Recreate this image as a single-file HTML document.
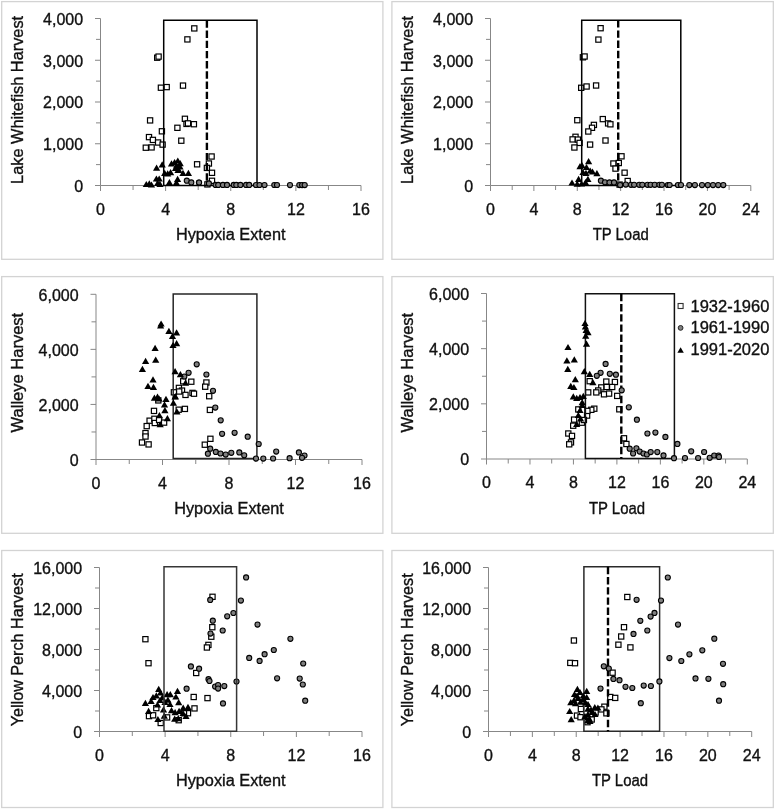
<!DOCTYPE html>
<html><head><meta charset="utf-8"><style>
html,body{margin:0;padding:0;background:#fff;}
svg{display:block;}
svg{filter:grayscale(1);}
text{font-family:"Liberation Sans", sans-serif;font-size:16px;fill:#111;stroke:#111;stroke-width:0.35px;}
</style></head><body>
<svg width="775" height="810" viewBox="0 0 775 810">
<rect width="775" height="810" fill="#fff"/>
<rect x="1.7" y="1.6" width="381.2" height="257.7" fill="#fff" stroke="#d3d3d3" stroke-width="1.3"/>
<rect x="391.9" y="1.6" width="381.4" height="257.7" fill="#fff" stroke="#d3d3d3" stroke-width="1.3"/>
<rect x="1.7" y="276.6" width="381.2" height="256.7" fill="#fff" stroke="#d3d3d3" stroke-width="1.3"/>
<rect x="391.9" y="276.6" width="381.4" height="256.7" fill="#fff" stroke="#d3d3d3" stroke-width="1.3"/>
<rect x="1.7" y="550.5" width="381.2" height="257.0" fill="#fff" stroke="#d3d3d3" stroke-width="1.3"/>
<rect x="391.9" y="550.5" width="381.4" height="257.0" fill="#fff" stroke="#d3d3d3" stroke-width="1.3"/>
<path d="M100.5 18.5V185.5M100.5 185.5H361.0" stroke="#878787" stroke-width="1" fill="none"/>
<path d="M95.00 185.50H100.5M96.00 164.62H100.5M95.00 143.75H100.5M96.00 122.88H100.5M95.00 102.00H100.5M96.00 81.12H100.5M95.00 60.25H100.5M96.00 39.38H100.5M95.00 18.50H100.5M100.50 185.5V191.00M133.06 185.5V190.00M165.62 185.5V191.00M198.19 185.5V190.00M230.75 185.5V191.00M263.31 185.5V190.00M295.88 185.5V191.00M328.44 185.5V190.00M361.00 185.5V191.00" stroke="#878787" stroke-width="1" fill="none"/>
<text x="83.1" y="191.7" text-anchor="end">0</text>
<text x="83.1" y="149.9" text-anchor="end">1,000</text>
<text x="83.1" y="108.2" text-anchor="end">2,000</text>
<text x="83.1" y="66.5" text-anchor="end">3,000</text>
<text x="83.1" y="24.7" text-anchor="end">4,000</text>
<text x="100.5" y="214.9" text-anchor="middle">0</text>
<text x="165.6" y="214.9" text-anchor="middle">4</text>
<text x="230.8" y="214.9" text-anchor="middle">8</text>
<text x="295.9" y="214.9" text-anchor="middle">12</text>
<text x="361.0" y="214.9" text-anchor="middle">16</text>
<text transform="translate(23.2 99.9) rotate(-90)" text-anchor="middle" textLength="168.1" lengthAdjust="spacingAndGlyphs">Lake Whitefish Harvest</text>
<text x="230.7" y="239.9" text-anchor="middle" textLength="109.6" lengthAdjust="spacingAndGlyphs">Hypoxia Extent</text>
<path d="M490.5 18.5V185.5M490.5 185.5H750.8" stroke="#878787" stroke-width="1" fill="none"/>
<path d="M485.00 185.50H490.5M486.00 164.62H490.5M485.00 143.75H490.5M486.00 122.88H490.5M485.00 102.00H490.5M486.00 81.12H490.5M485.00 60.25H490.5M486.00 39.38H490.5M485.00 18.50H490.5M490.50 185.5V191.00M512.19 185.5V190.00M533.88 185.5V191.00M555.58 185.5V190.00M577.27 185.5V191.00M598.96 185.5V190.00M620.65 185.5V191.00M642.34 185.5V190.00M664.03 185.5V191.00M685.73 185.5V190.00M707.42 185.5V191.00M729.11 185.5V190.00M750.80 185.5V191.00" stroke="#878787" stroke-width="1" fill="none"/>
<text x="473.1" y="191.7" text-anchor="end">0</text>
<text x="473.1" y="149.9" text-anchor="end">1,000</text>
<text x="473.1" y="108.2" text-anchor="end">2,000</text>
<text x="473.1" y="66.5" text-anchor="end">3,000</text>
<text x="473.1" y="24.7" text-anchor="end">4,000</text>
<text x="490.5" y="214.9" text-anchor="middle">0</text>
<text x="533.9" y="214.9" text-anchor="middle">4</text>
<text x="577.3" y="214.9" text-anchor="middle">8</text>
<text x="620.6" y="214.9" text-anchor="middle">12</text>
<text x="664.0" y="214.9" text-anchor="middle">16</text>
<text x="707.4" y="214.9" text-anchor="middle">20</text>
<text x="750.8" y="214.9" text-anchor="middle">24</text>
<text transform="translate(413.2 99.9) rotate(-90)" text-anchor="middle" textLength="168.1" lengthAdjust="spacingAndGlyphs">Lake Whitefish Harvest</text>
<text x="620.7" y="239.9" text-anchor="middle" textLength="56.1" lengthAdjust="spacingAndGlyphs">TP Load</text>
<path d="M96.0 294.3V459.5M96.0 459.5H362.0" stroke="#878787" stroke-width="1" fill="none"/>
<path d="M90.50 459.50H96.0M91.50 431.97H96.0M90.50 404.43H96.0M91.50 376.90H96.0M90.50 349.37H96.0M91.50 321.83H96.0M90.50 294.30H96.0M96.00 459.5V465.00M129.25 459.5V464.00M162.50 459.5V465.00M195.75 459.5V464.00M229.00 459.5V465.00M262.25 459.5V464.00M295.50 459.5V465.00M328.75 459.5V464.00M362.00 459.5V465.00" stroke="#878787" stroke-width="1" fill="none"/>
<text x="78.6" y="465.7" text-anchor="end">0</text>
<text x="78.6" y="410.6" text-anchor="end">2,000</text>
<text x="78.6" y="355.6" text-anchor="end">4,000</text>
<text x="78.6" y="300.5" text-anchor="end">6,000</text>
<text x="96.0" y="488.9" text-anchor="middle">0</text>
<text x="162.5" y="488.9" text-anchor="middle">4</text>
<text x="229.0" y="488.9" text-anchor="middle">8</text>
<text x="295.5" y="488.9" text-anchor="middle">12</text>
<text x="362.0" y="488.9" text-anchor="middle">16</text>
<text transform="translate(23.3 372.6) rotate(-90)" text-anchor="middle" textLength="119.6" lengthAdjust="spacingAndGlyphs">Walleye Harvest</text>
<text x="229.0" y="514.0" text-anchor="middle" textLength="109.6" lengthAdjust="spacingAndGlyphs">Hypoxia Extent</text>
<path d="M486.5 293.5V459.0M486.5 459.0H747.3" stroke="#878787" stroke-width="1" fill="none"/>
<path d="M481.00 459.00H486.5M482.00 431.42H486.5M481.00 403.83H486.5M482.00 376.25H486.5M481.00 348.67H486.5M482.00 321.08H486.5M481.00 293.50H486.5M486.50 459.0V464.50M508.23 459.0V463.50M529.97 459.0V464.50M551.70 459.0V463.50M573.43 459.0V464.50M595.17 459.0V463.50M616.90 459.0V464.50M638.63 459.0V463.50M660.37 459.0V464.50M682.10 459.0V463.50M703.83 459.0V464.50M725.57 459.0V463.50M747.30 459.0V464.50" stroke="#878787" stroke-width="1" fill="none"/>
<text x="469.1" y="465.2" text-anchor="end">0</text>
<text x="469.1" y="410.0" text-anchor="end">2,000</text>
<text x="469.1" y="354.9" text-anchor="end">4,000</text>
<text x="469.1" y="299.7" text-anchor="end">6,000</text>
<text x="486.5" y="488.4" text-anchor="middle">0</text>
<text x="530.0" y="488.4" text-anchor="middle">4</text>
<text x="573.4" y="488.4" text-anchor="middle">8</text>
<text x="616.9" y="488.4" text-anchor="middle">12</text>
<text x="660.4" y="488.4" text-anchor="middle">16</text>
<text x="703.8" y="488.4" text-anchor="middle">20</text>
<text x="747.3" y="488.4" text-anchor="middle">24</text>
<text transform="translate(413.3 372.6) rotate(-90)" text-anchor="middle" textLength="119.6" lengthAdjust="spacingAndGlyphs">Walleye Harvest</text>
<text x="617.0" y="513.5" text-anchor="middle" textLength="56.1" lengthAdjust="spacingAndGlyphs">TP Load</text>
<path d="M99.5 567.5V731.5M99.5 731.5H362.0" stroke="#878787" stroke-width="1" fill="none"/>
<path d="M94.00 731.50H99.5M95.00 711.00H99.5M94.00 690.50H99.5M95.00 670.00H99.5M94.00 649.50H99.5M95.00 629.00H99.5M94.00 608.50H99.5M95.00 588.00H99.5M94.00 567.50H99.5M99.50 731.5V737.00M132.31 731.5V736.00M165.12 731.5V737.00M197.94 731.5V736.00M230.75 731.5V737.00M263.56 731.5V736.00M296.38 731.5V737.00M329.19 731.5V736.00M362.00 731.5V737.00" stroke="#878787" stroke-width="1" fill="none"/>
<text x="82.1" y="737.7" text-anchor="end">0</text>
<text x="82.1" y="696.7" text-anchor="end">4,000</text>
<text x="82.1" y="655.7" text-anchor="end">8,000</text>
<text x="82.1" y="614.7" text-anchor="end">12,000</text>
<text x="82.1" y="573.7" text-anchor="end">16,000</text>
<text x="99.5" y="760.9" text-anchor="middle">0</text>
<text x="165.1" y="760.9" text-anchor="middle">4</text>
<text x="230.8" y="760.9" text-anchor="middle">8</text>
<text x="296.4" y="760.9" text-anchor="middle">12</text>
<text x="362.0" y="760.9" text-anchor="middle">16</text>
<text transform="translate(23.3 649.8) rotate(-90)" text-anchor="middle" textLength="152.9" lengthAdjust="spacingAndGlyphs">Yellow Perch Harvest</text>
<text x="230.7" y="786.0" text-anchor="middle" textLength="109.6" lengthAdjust="spacingAndGlyphs">Hypoxia Extent</text>
<path d="M488.5 567.5V731.5M488.5 731.5H751.7" stroke="#878787" stroke-width="1" fill="none"/>
<path d="M483.00 731.50H488.5M484.00 711.00H488.5M483.00 690.50H488.5M484.00 670.00H488.5M483.00 649.50H488.5M484.00 629.00H488.5M483.00 608.50H488.5M484.00 588.00H488.5M483.00 567.50H488.5M488.50 731.5V737.00M510.43 731.5V736.00M532.37 731.5V737.00M554.30 731.5V736.00M576.23 731.5V737.00M598.17 731.5V736.00M620.10 731.5V737.00M642.03 731.5V736.00M663.97 731.5V737.00M685.90 731.5V736.00M707.83 731.5V737.00M729.77 731.5V736.00M751.70 731.5V737.00" stroke="#878787" stroke-width="1" fill="none"/>
<text x="471.1" y="737.7" text-anchor="end">0</text>
<text x="471.1" y="696.7" text-anchor="end">4,000</text>
<text x="471.1" y="655.7" text-anchor="end">8,000</text>
<text x="471.1" y="614.7" text-anchor="end">12,000</text>
<text x="471.1" y="573.7" text-anchor="end">16,000</text>
<text x="488.5" y="760.9" text-anchor="middle">0</text>
<text x="532.4" y="760.9" text-anchor="middle">4</text>
<text x="576.2" y="760.9" text-anchor="middle">8</text>
<text x="620.1" y="760.9" text-anchor="middle">12</text>
<text x="664.0" y="760.9" text-anchor="middle">16</text>
<text x="707.8" y="760.9" text-anchor="middle">20</text>
<text x="751.7" y="760.9" text-anchor="middle">24</text>
<text transform="translate(413.3 649.8) rotate(-90)" text-anchor="middle" textLength="152.9" lengthAdjust="spacingAndGlyphs">Yellow Perch Harvest</text>
<text x="620.0" y="786.0" text-anchor="middle" textLength="56.1" lengthAdjust="spacingAndGlyphs">TP Load</text>
<g fill="#fff" stroke="#000" stroke-width="1.2"><rect x="191.7" y="25.8" width="5.2" height="5.2"/><rect x="184.8" y="36.8" width="5.2" height="5.2"/><rect x="154.6" y="55.1" width="5.2" height="5.2"/><rect x="156.0" y="54.0" width="5.2" height="5.2"/><rect x="158.3" y="85.1" width="5.2" height="5.2"/><rect x="164.1" y="84.5" width="5.2" height="5.2"/><rect x="180.4" y="83.0" width="5.2" height="5.2"/><rect x="147.5" y="117.8" width="5.2" height="5.2"/><rect x="182.3" y="116.2" width="5.2" height="5.2"/><rect x="183.9" y="121.3" width="5.2" height="5.2"/><rect x="185.4" y="120.8" width="5.2" height="5.2"/><rect x="191.3" y="121.6" width="5.2" height="5.2"/><rect x="174.8" y="125.2" width="5.2" height="5.2"/><rect x="159.3" y="128.7" width="5.2" height="5.2"/><rect x="146.4" y="134.5" width="5.2" height="5.2"/><rect x="150.3" y="137.3" width="5.2" height="5.2"/><rect x="155.5" y="139.9" width="5.2" height="5.2"/><rect x="160.0" y="142.0" width="5.2" height="5.2"/><rect x="143.2" y="145.1" width="5.2" height="5.2"/><rect x="149.0" y="144.8" width="5.2" height="5.2"/><rect x="178.7" y="138.1" width="5.2" height="5.2"/><rect x="209.0" y="153.9" width="5.2" height="5.2"/><rect x="206.3" y="160.9" width="5.2" height="5.2"/><rect x="204.3" y="165.3" width="5.2" height="5.2"/><rect x="209.4" y="170.2" width="5.2" height="5.2"/><rect x="209.4" y="178.2" width="5.2" height="5.2"/><rect x="204.8" y="181.8" width="5.2" height="5.2"/><rect x="194.5" y="161.7" width="5.2" height="5.2"/></g>
<path d="M163.7 185.5V20.3H257.0V185.5Z" stroke="#000" stroke-width="1.5" fill="none"/>
<path d="M206.9 20.3V185.5" stroke="#000" stroke-width="2.4" stroke-dasharray="7.4 2.8" fill="none"/>
<g fill="#808080" stroke="#000" stroke-width="1.1"><circle cx="186.8" cy="180.7" r="2.55"/><circle cx="191.3" cy="182.4" r="2.55"/><circle cx="198.9" cy="182.5" r="2.55"/><circle cx="199.1" cy="182.5" r="2.55"/><circle cx="208.9" cy="183.4" r="2.55"/><circle cx="215.6" cy="184.9" r="2.55"/><circle cx="218.2" cy="184.9" r="2.55"/><circle cx="222.9" cy="184.9" r="2.55"/><circle cx="227.0" cy="184.9" r="2.55"/><circle cx="233.7" cy="184.9" r="2.55"/><circle cx="236.3" cy="184.9" r="2.55"/><circle cx="240.4" cy="184.9" r="2.55"/><circle cx="246.1" cy="184.9" r="2.55"/><circle cx="249.2" cy="184.9" r="2.55"/><circle cx="256.0" cy="185.0" r="2.55"/><circle cx="259.5" cy="185.0" r="2.55"/><circle cx="264.5" cy="185.0" r="2.55"/><circle cx="274.3" cy="185.0" r="2.55"/><circle cx="277.0" cy="185.0" r="2.55"/><circle cx="290.0" cy="185.1" r="2.55"/><circle cx="299.3" cy="185.1" r="2.55"/><circle cx="302.1" cy="185.1" r="2.55"/><circle cx="304.7" cy="185.1" r="2.55"/></g>
<g fill="#000"><path d="M156.6 164.5L160.2 170.7H153.0Z"/><path d="M162.2 161.3L165.8 167.5H158.6Z"/><path d="M146.3 180.9L149.9 187.1H142.7Z"/><path d="M149.3 180.2L152.9 186.4H145.7Z"/><path d="M151.5 181.4L155.1 187.6H147.9Z"/><path d="M156.4 175.4L160.0 181.6H152.8Z"/><path d="M159.2 175.4L162.8 181.6H155.6Z"/><path d="M157.6 179.9L161.2 186.1H154.0Z"/><path d="M160.0 180.7L163.6 186.9H156.4Z"/><path d="M164.7 169.8L168.3 176.0H161.1Z"/><path d="M167.7 170.2L171.3 176.4H164.1Z"/><path d="M170.6 169.1L174.2 175.3H167.0Z"/><path d="M171.5 160.2L175.1 166.4H167.9Z"/><path d="M174.6 158.9L178.2 165.1H171.0Z"/><path d="M176.5 162.4L180.1 168.6H172.9Z"/><path d="M180.0 163.4L183.6 169.6H176.4Z"/><path d="M178.0 166.9L181.6 173.1H174.4Z"/><path d="M177.8 157.4L181.4 163.6H174.2Z"/><path d="M180.2 160.1L183.8 166.3H176.6Z"/><path d="M175.5 164.9L179.1 171.1H171.9Z"/><path d="M178.8 166.5L182.4 172.7H175.2Z"/><path d="M183.0 169.7L186.6 175.9H179.4Z"/><path d="M188.4 169.8L192.0 176.0H184.8Z"/><path d="M169.4 179.1L173.0 185.3H165.8Z"/><path d="M177.6 175.8L181.2 182.0H174.0Z"/><path d="M176.4 179.3L180.0 185.5H172.8Z"/></g>
<g fill="#fff" stroke="#000" stroke-width="1.2"><rect x="598.0" y="25.6" width="5.2" height="5.2"/><rect x="595.8" y="37.0" width="5.2" height="5.2"/><rect x="580.3" y="54.7" width="5.2" height="5.2"/><rect x="582.0" y="53.9" width="5.2" height="5.2"/><rect x="578.6" y="85.2" width="5.2" height="5.2"/><rect x="584.0" y="83.9" width="5.2" height="5.2"/><rect x="593.5" y="82.9" width="5.2" height="5.2"/><rect x="574.7" y="117.6" width="5.2" height="5.2"/><rect x="591.3" y="122.3" width="5.2" height="5.2"/><rect x="589.4" y="125.2" width="5.2" height="5.2"/><rect x="585.7" y="128.9" width="5.2" height="5.2"/><rect x="600.2" y="116.5" width="5.2" height="5.2"/><rect x="605.5" y="120.8" width="5.2" height="5.2"/><rect x="607.8" y="121.7" width="5.2" height="5.2"/><rect x="572.9" y="134.2" width="5.2" height="5.2"/><rect x="570.0" y="136.8" width="5.2" height="5.2"/><rect x="575.3" y="137.0" width="5.2" height="5.2"/><rect x="577.0" y="140.3" width="5.2" height="5.2"/><rect x="571.8" y="144.9" width="5.2" height="5.2"/><rect x="587.5" y="142.0" width="5.2" height="5.2"/><rect x="602.9" y="137.9" width="5.2" height="5.2"/><rect x="618.9" y="153.7" width="5.2" height="5.2"/><rect x="610.8" y="160.9" width="5.2" height="5.2"/><rect x="616.2" y="160.4" width="5.2" height="5.2"/><rect x="612.9" y="166.0" width="5.2" height="5.2"/><rect x="622.0" y="170.1" width="5.2" height="5.2"/><rect x="625.1" y="178.4" width="5.2" height="5.2"/><rect x="617.0" y="182.0" width="5.2" height="5.2"/></g>
<path d="M581.7 185.5V20.2H680.8V185.5Z" stroke="#000" stroke-width="1.5" fill="none"/>
<path d="M618.2 20.2V185.5" stroke="#000" stroke-width="2.4" stroke-dasharray="7.4 2.8" fill="none"/>
<g fill="#808080" stroke="#000" stroke-width="1.1"><circle cx="600.9" cy="180.7" r="2.55"/><circle cx="605.0" cy="182.3" r="2.55"/><circle cx="609.5" cy="182.4" r="2.55"/><circle cx="614.0" cy="182.4" r="2.55"/><circle cx="620.1" cy="185.1" r="2.55"/><circle cx="625.8" cy="184.6" r="2.55"/><circle cx="631.0" cy="184.8" r="2.55"/><circle cx="634.1" cy="184.8" r="2.55"/><circle cx="639.2" cy="184.8" r="2.55"/><circle cx="642.3" cy="184.8" r="2.55"/><circle cx="647.5" cy="184.8" r="2.55"/><circle cx="650.6" cy="184.8" r="2.55"/><circle cx="654.7" cy="184.8" r="2.55"/><circle cx="659.4" cy="184.8" r="2.55"/><circle cx="661.9" cy="184.8" r="2.55"/><circle cx="667.8" cy="185.0" r="2.55"/><circle cx="669.6" cy="185.0" r="2.55"/><circle cx="677.9" cy="185.0" r="2.55"/><circle cx="681.0" cy="185.0" r="2.55"/><circle cx="689.3" cy="185.1" r="2.55"/><circle cx="694.9" cy="185.1" r="2.55"/><circle cx="702.0" cy="185.1" r="2.55"/><circle cx="707.8" cy="185.1" r="2.55"/><circle cx="713.0" cy="185.1" r="2.55"/><circle cx="718.2" cy="185.1" r="2.55"/><circle cx="723.3" cy="185.1" r="2.55"/></g>
<g fill="#000"><path d="M588.6 158.0L592.2 164.2H585.0Z"/><path d="M580.0 163.0L583.6 169.2H576.4Z"/><path d="M582.0 162.0L585.6 168.2H578.4Z"/><path d="M590.2 167.4L593.8 173.6H586.6Z"/><path d="M596.9 170.0L600.5 176.2H593.3Z"/><path d="M586.0 169.8L589.6 176.0H582.4Z"/><path d="M583.0 168.9L586.6 175.1H579.4Z"/><path d="M578.6 175.8L582.2 182.0H575.0Z"/><path d="M587.9 175.8L591.5 182.0H584.3Z"/><path d="M572.0 179.4L575.6 185.6H568.4Z"/><path d="M577.2 180.6L580.8 186.8H573.6Z"/><path d="M585.5 179.1L589.1 185.3H581.9Z"/><path d="M581.5 180.4L585.1 186.6H577.9Z"/><path d="M592.5 168.4L596.1 174.6H588.9Z"/><path d="M586.5 163.9L590.1 170.1H582.9Z"/></g>
<g fill="#fff" stroke="#000" stroke-width="1.2"><rect x="188.7" y="379.1" width="5.2" height="5.2"/><rect x="203.8" y="379.9" width="5.2" height="5.2"/><rect x="202.6" y="384.1" width="5.2" height="5.2"/><rect x="180.6" y="378.7" width="5.2" height="5.2"/><rect x="176.3" y="385.3" width="5.2" height="5.2"/><rect x="179.4" y="388.0" width="5.2" height="5.2"/><rect x="182.9" y="392.3" width="5.2" height="5.2"/><rect x="189.9" y="390.3" width="5.2" height="5.2"/><rect x="191.4" y="391.1" width="5.2" height="5.2"/><rect x="206.6" y="393.6" width="5.2" height="5.2"/><rect x="171.3" y="389.7" width="5.2" height="5.2"/><rect x="176.6" y="388.9" width="5.2" height="5.2"/><rect x="155.7" y="397.8" width="5.2" height="5.2"/><rect x="151.4" y="408.3" width="5.2" height="5.2"/><rect x="147.0" y="418.1" width="5.2" height="5.2"/><rect x="151.8" y="416.2" width="5.2" height="5.2"/><rect x="152.2" y="420.4" width="5.2" height="5.2"/><rect x="156.5" y="417.3" width="5.2" height="5.2"/><rect x="161.5" y="420.0" width="5.2" height="5.2"/><rect x="144.1" y="423.5" width="5.2" height="5.2"/><rect x="142.9" y="430.5" width="5.2" height="5.2"/><rect x="142.9" y="433.9" width="5.2" height="5.2"/><rect x="139.4" y="439.9" width="5.2" height="5.2"/><rect x="146.0" y="441.8" width="5.2" height="5.2"/><rect x="182.3" y="406.3" width="5.2" height="5.2"/><rect x="176.1" y="407.1" width="5.2" height="5.2"/><rect x="207.3" y="407.3" width="5.2" height="5.2"/><rect x="207.8" y="436.2" width="5.2" height="5.2"/><rect x="202.2" y="442.1" width="5.2" height="5.2"/></g>
<path d="M173.2 458.6V294.0H256.9V458.6Z" stroke="#262626" stroke-width="1.5" fill="none"/>
<g fill="#808080" stroke="#000" stroke-width="1.1"><circle cx="196.7" cy="364.3" r="2.55"/><circle cx="188.6" cy="372.8" r="2.55"/><circle cx="206.4" cy="374.5" r="2.55"/><circle cx="184.3" cy="376.5" r="2.55"/><circle cx="213.0" cy="390.8" r="2.55"/><circle cx="215.3" cy="407.6" r="2.55"/><circle cx="220.7" cy="420.3" r="2.55"/><circle cx="222.1" cy="433.8" r="2.55"/><circle cx="234.6" cy="432.8" r="2.55"/><circle cx="247.7" cy="436.7" r="2.55"/><circle cx="258.7" cy="444.0" r="2.55"/><circle cx="210.2" cy="448.7" r="2.55"/><circle cx="207.9" cy="453.7" r="2.55"/><circle cx="215.8" cy="451.9" r="2.55"/><circle cx="220.5" cy="453.5" r="2.55"/><circle cx="225.7" cy="454.6" r="2.55"/><circle cx="231.3" cy="452.8" r="2.55"/><circle cx="239.3" cy="452.4" r="2.55"/><circle cx="244.2" cy="455.3" r="2.55"/><circle cx="256.0" cy="458.6" r="2.55"/><circle cx="263.3" cy="458.6" r="2.55"/><circle cx="276.2" cy="451.6" r="2.55"/><circle cx="273.1" cy="458.5" r="2.55"/><circle cx="289.6" cy="458.2" r="2.55"/><circle cx="298.9" cy="452.4" r="2.55"/><circle cx="304.5" cy="455.5" r="2.55"/><circle cx="302.0" cy="457.8" r="2.55"/></g>
<g fill="#000"><path d="M161.1 320.4L164.7 326.6H157.5Z"/><path d="M160.6 322.4L164.2 328.6H157.0Z"/><path d="M168.9 327.7L172.5 333.9H165.3Z"/><path d="M176.6 329.2L180.2 335.4H173.0Z"/><path d="M172.5 332.8L176.1 339.0H168.9Z"/><path d="M176.6 340.1L180.2 346.3H173.0Z"/><path d="M173.0 341.9L176.6 348.1H169.4Z"/><path d="M155.1 344.7L158.7 350.9H151.5Z"/><path d="M145.6 357.7L149.2 363.9H142.0Z"/><path d="M155.7 356.6L159.3 362.8H152.1Z"/><path d="M142.4 365.8L146.0 372.0H138.8Z"/><path d="M153.0 376.2L156.6 382.4H149.4Z"/><path d="M148.0 382.8L151.6 389.0H144.4Z"/><path d="M153.5 383.7L157.1 389.9H149.9Z"/><path d="M175.1 368.1L178.7 374.3H171.5Z"/><path d="M180.4 371.1L184.0 377.3H176.8Z"/><path d="M185.5 379.6L189.1 385.8H181.9Z"/><path d="M175.1 393.4L178.7 399.6H171.5Z"/><path d="M173.4 399.5L177.0 405.7H169.8Z"/><path d="M154.4 394.6L158.0 400.8H150.8Z"/><path d="M157.5 393.5L161.1 399.7H153.9Z"/><path d="M159.1 395.4L162.7 401.6H155.5Z"/><path d="M166.0 395.8L169.6 402.0H162.4Z"/><path d="M164.5 401.2L168.1 407.4H160.9Z"/><path d="M164.9 407.0L168.5 413.2H161.3Z"/><path d="M159.4 412.1L163.0 418.3H155.8Z"/><path d="M167.4 415.1L171.0 421.3H163.8Z"/><path d="M160.2 421.1L163.8 427.3H156.6Z"/><path d="M175.3 393.1L178.9 399.3H171.7Z"/><path d="M176.9 408.3L180.5 414.5H173.3Z"/></g>
<g fill="#fff" stroke="#000" stroke-width="1.2"><rect x="587.1" y="378.6" width="5.2" height="5.2"/><rect x="603.7" y="379.0" width="5.2" height="5.2"/><rect x="612.3" y="379.4" width="5.2" height="5.2"/><rect x="598.7" y="384.8" width="5.2" height="5.2"/><rect x="604.1" y="384.4" width="5.2" height="5.2"/><rect x="609.6" y="384.4" width="5.2" height="5.2"/><rect x="595.6" y="387.9" width="5.2" height="5.2"/><rect x="593.7" y="389.8" width="5.2" height="5.2"/><rect x="585.6" y="389.8" width="5.2" height="5.2"/><rect x="601.4" y="391.7" width="5.2" height="5.2"/><rect x="606.5" y="391.0" width="5.2" height="5.2"/><rect x="614.6" y="393.3" width="5.2" height="5.2"/><rect x="591.7" y="406.1" width="5.2" height="5.2"/><rect x="588.7" y="407.2" width="5.2" height="5.2"/><rect x="616.7" y="406.7" width="5.2" height="5.2"/><rect x="571.5" y="417.0" width="5.2" height="5.2"/><rect x="570.6" y="423.1" width="5.2" height="5.2"/><rect x="565.7" y="430.9" width="5.2" height="5.2"/><rect x="569.4" y="433.3" width="5.2" height="5.2"/><rect x="568.4" y="439.8" width="5.2" height="5.2"/><rect x="566.6" y="441.7" width="5.2" height="5.2"/><rect x="579.3" y="420.1" width="5.2" height="5.2"/><rect x="584.5" y="413.0" width="5.2" height="5.2"/><rect x="584.8" y="408.3" width="5.2" height="5.2"/><rect x="581.3" y="417.4" width="5.2" height="5.2"/><rect x="575.7" y="406.8" width="5.2" height="5.2"/><rect x="621.4" y="435.7" width="5.2" height="5.2"/><rect x="623.8" y="441.4" width="5.2" height="5.2"/></g>
<path d="M585.4 458.4V293.8H674.4V458.4Z" stroke="#111" stroke-width="1.5" fill="none"/>
<path d="M621.3 293.8V458.4" stroke="#000" stroke-width="2.4" stroke-dasharray="7.4 2.8" fill="none"/>
<g fill="#808080" stroke="#000" stroke-width="1.1"><circle cx="605.6" cy="363.9" r="2.55"/><circle cx="600.6" cy="372.8" r="2.55"/><circle cx="596.8" cy="375.8" r="2.55"/><circle cx="609.8" cy="373.8" r="2.55"/><circle cx="615.9" cy="374.7" r="2.55"/><circle cx="621.7" cy="390.3" r="2.55"/><circle cx="628.8" cy="407.3" r="2.55"/><circle cx="636.9" cy="419.7" r="2.55"/><circle cx="647.4" cy="433.5" r="2.55"/><circle cx="655.4" cy="432.6" r="2.55"/><circle cx="665.4" cy="436.9" r="2.55"/><circle cx="677.4" cy="443.9" r="2.55"/><circle cx="629.7" cy="448.7" r="2.55"/><circle cx="633.1" cy="453.5" r="2.55"/><circle cx="636.4" cy="448.3" r="2.55"/><circle cx="639.7" cy="451.6" r="2.55"/><circle cx="643.5" cy="453.5" r="2.55"/><circle cx="646.9" cy="454.5" r="2.55"/><circle cx="650.7" cy="452.1" r="2.55"/><circle cx="657.3" cy="452.1" r="2.55"/><circle cx="663.5" cy="455.4" r="2.55"/><circle cx="674.0" cy="458.2" r="2.55"/><circle cx="685.0" cy="458.1" r="2.55"/><circle cx="691.2" cy="451.3" r="2.55"/><circle cx="698.1" cy="458.0" r="2.55"/><circle cx="704.1" cy="452.0" r="2.55"/><circle cx="709.7" cy="457.8" r="2.55"/><circle cx="714.2" cy="455.5" r="2.55"/><circle cx="718.5" cy="455.5" r="2.55"/><circle cx="719.0" cy="457.0" r="2.55"/></g>
<g fill="#000"><path d="M585.0 319.9L588.6 326.1H581.4Z"/><path d="M585.4 323.2L589.0 329.4H581.8Z"/><path d="M586.1 326.9L589.7 333.1H582.5Z"/><path d="M588.0 329.1L591.6 335.3H584.4Z"/><path d="M585.7 332.5L589.3 338.7H582.1Z"/><path d="M586.5 340.6L590.1 346.8H582.9Z"/><path d="M568.0 343.9L571.6 350.1H564.4Z"/><path d="M566.9 357.3L570.5 363.5H563.3Z"/><path d="M574.3 356.2L577.9 362.4H570.7Z"/><path d="M567.8 365.7L571.4 371.9H564.2Z"/><path d="M584.3 368.0L587.9 374.2H580.7Z"/><path d="M589.7 370.7L593.3 376.9H586.1Z"/><path d="M575.3 376.0L578.9 382.2H571.7Z"/><path d="M592.9 379.1L596.5 385.3H589.3Z"/><path d="M570.8 382.7L574.4 388.9H567.2Z"/><path d="M573.9 383.9L577.5 390.1H570.3Z"/><path d="M573.3 393.3L576.9 399.5H569.7Z"/><path d="M576.7 394.7L580.3 400.9H573.1Z"/><path d="M580.0 393.9L583.6 400.1H576.4Z"/><path d="M583.3 392.7L586.9 398.9H579.7Z"/><path d="M582.2 399.1L585.8 405.3H578.6Z"/><path d="M582.2 401.9L585.8 408.1H578.6Z"/><path d="M580.0 406.9L583.6 413.1H576.4Z"/><path d="M578.3 411.9L581.9 418.1H574.7Z"/><path d="M580.6 415.2L584.2 421.4H577.0Z"/><path d="M576.7 420.8L580.3 427.0H573.1Z"/></g>
<g fill="#fff" stroke="#000" stroke-width="1.2"><rect x="209.9" y="594.2" width="5.2" height="5.2"/><rect x="209.7" y="624.6" width="5.2" height="5.2"/><rect x="208.7" y="634.1" width="5.2" height="5.2"/><rect x="205.8" y="642.3" width="5.2" height="5.2"/><rect x="204.3" y="644.9" width="5.2" height="5.2"/><rect x="142.8" y="636.6" width="5.2" height="5.2"/><rect x="145.9" y="660.6" width="5.2" height="5.2"/><rect x="193.6" y="670.4" width="5.2" height="5.2"/><rect x="191.1" y="694.4" width="5.2" height="5.2"/><rect x="204.9" y="695.5" width="5.2" height="5.2"/><rect x="191.9" y="705.8" width="5.2" height="5.2"/><rect x="185.4" y="710.6" width="5.2" height="5.2"/><rect x="181.4" y="710.7" width="5.2" height="5.2"/><rect x="176.1" y="717.6" width="5.2" height="5.2"/><rect x="153.7" y="705.5" width="5.2" height="5.2"/><rect x="146.4" y="713.5" width="5.2" height="5.2"/><rect x="150.5" y="712.7" width="5.2" height="5.2"/><rect x="164.5" y="714.8" width="5.2" height="5.2"/><rect x="158.1" y="720.4" width="5.2" height="5.2"/></g>
<g fill="#808080" stroke="#000" stroke-width="1.1"><circle cx="246.1" cy="577.4" r="2.55"/><circle cx="210.2" cy="599.9" r="2.55"/><circle cx="240.9" cy="600.6" r="2.55"/><circle cx="233.4" cy="613.0" r="2.55"/><circle cx="227.2" cy="616.3" r="2.55"/><circle cx="212.8" cy="620.7" r="2.55"/><circle cx="257.5" cy="624.6" r="2.55"/><circle cx="222.7" cy="630.5" r="2.55"/><circle cx="210.5" cy="633.6" r="2.55"/><circle cx="273.8" cy="650.0" r="2.55"/><circle cx="264.6" cy="654.2" r="2.55"/><circle cx="249.2" cy="657.9" r="2.55"/><circle cx="259.6" cy="660.9" r="2.55"/><circle cx="290.4" cy="638.8" r="2.55"/><circle cx="303.2" cy="663.5" r="2.55"/><circle cx="277.1" cy="678.3" r="2.55"/><circle cx="299.7" cy="678.6" r="2.55"/><circle cx="302.8" cy="684.5" r="2.55"/><circle cx="305.2" cy="700.7" r="2.55"/><circle cx="199.1" cy="668.7" r="2.55"/><circle cx="190.9" cy="666.4" r="2.55"/><circle cx="208.5" cy="679.2" r="2.55"/><circle cx="209.5" cy="681.0" r="2.55"/><circle cx="186.6" cy="688.7" r="2.55"/><circle cx="215.1" cy="686.6" r="2.55"/><circle cx="218.1" cy="685.1" r="2.55"/><circle cx="218.1" cy="688.6" r="2.55"/><circle cx="224.3" cy="686.1" r="2.55"/><circle cx="223.0" cy="703.4" r="2.55"/><circle cx="236.5" cy="681.5" r="2.55"/></g>
<g fill="#000"><path d="M158.7 685.8L162.3 692.0H155.1Z"/><path d="M156.3 692.2L159.9 698.4H152.7Z"/><path d="M145.4 699.8L149.0 706.0H141.8Z"/><path d="M151.1 697.8L154.7 704.0H147.5Z"/><path d="M157.5 701.4L161.1 707.6H153.9Z"/><path d="M162.3 694.2L165.9 700.4H158.7Z"/><path d="M167.1 691.0L170.7 697.2H163.5Z"/><path d="M170.3 691.0L173.9 697.2H166.7Z"/><path d="M167.9 696.6L171.5 702.8H164.3Z"/><path d="M177.5 687.8L181.1 694.0H173.9Z"/><path d="M175.9 693.4L179.5 699.6H172.3Z"/><path d="M178.7 699.0L182.3 705.2H175.1Z"/><path d="M148.6 707.8L152.2 714.0H145.0Z"/><path d="M163.5 706.2L167.1 712.4H159.9Z"/><path d="M164.3 712.6L167.9 718.8H160.7Z"/><path d="M157.9 715.9L161.5 722.1H154.3Z"/><path d="M171.5 707.0L175.1 713.2H167.9Z"/><path d="M175.1 709.0L178.7 715.2H171.5Z"/><path d="M179.1 707.8L182.7 714.0H175.5Z"/><path d="M183.2 704.6L186.8 710.8H179.6Z"/><path d="M188.0 703.8L191.6 710.0H184.4Z"/><path d="M174.7 715.5L178.3 721.7H171.1Z"/><path d="M178.3 715.1L181.9 721.3H174.7Z"/><path d="M160.0 696.9L163.6 703.1H156.4Z"/><path d="M165.0 698.9L168.6 705.1H161.4Z"/><path d="M153.0 693.9L156.6 700.1H149.4Z"/><path d="M170.0 700.9L173.6 707.1H166.4Z"/><path d="M183.0 709.9L186.6 716.1H179.4Z"/><path d="M186.0 712.9L189.6 719.1H182.4Z"/><path d="M160.5 689.4L164.1 695.6H156.9Z"/></g>
<path d="M164.0 731.3V566.8H236.6V731.3Z" stroke="#363636" stroke-width="1.5" fill="none"/>
<g fill="#fff" stroke="#000" stroke-width="1.2"><rect x="624.7" y="594.4" width="5.2" height="5.2"/><rect x="621.4" y="624.6" width="5.2" height="5.2"/><rect x="618.6" y="633.9" width="5.2" height="5.2"/><rect x="615.8" y="642.1" width="5.2" height="5.2"/><rect x="627.8" y="644.8" width="5.2" height="5.2"/><rect x="571.3" y="637.9" width="5.2" height="5.2"/><rect x="567.7" y="660.3" width="5.2" height="5.2"/><rect x="572.4" y="660.6" width="5.2" height="5.2"/><rect x="610.0" y="670.1" width="5.2" height="5.2"/><rect x="607.7" y="694.4" width="5.2" height="5.2"/><rect x="612.6" y="695.3" width="5.2" height="5.2"/><rect x="601.8" y="704.1" width="5.2" height="5.2"/><rect x="598.8" y="706.8" width="5.2" height="5.2"/><rect x="603.8" y="710.7" width="5.2" height="5.2"/><rect x="593.0" y="709.9" width="5.2" height="5.2"/><rect x="578.3" y="706.4" width="5.2" height="5.2"/><rect x="574.4" y="713.0" width="5.2" height="5.2"/><rect x="577.9" y="714.6" width="5.2" height="5.2"/><rect x="589.1" y="716.9" width="5.2" height="5.2"/><rect x="584.9" y="719.6" width="5.2" height="5.2"/></g>
<path d="M583.9 731.2V566.8H659.6V731.2Z" stroke="#2a2a2a" stroke-width="1.5" fill="none"/>
<path d="M608.0 566.8V731.2" stroke="#000" stroke-width="2.4" stroke-dasharray="7.4 2.8" fill="none"/>
<g fill="#808080" stroke="#000" stroke-width="1.1"><circle cx="636.6" cy="599.8" r="2.55"/><circle cx="661.0" cy="600.6" r="2.55"/><circle cx="667.8" cy="577.5" r="2.55"/><circle cx="654.5" cy="612.9" r="2.55"/><circle cx="650.6" cy="616.6" r="2.55"/><circle cx="640.3" cy="620.8" r="2.55"/><circle cx="647.3" cy="630.5" r="2.55"/><circle cx="633.5" cy="633.9" r="2.55"/><circle cx="678.0" cy="624.6" r="2.55"/><circle cx="714.3" cy="638.7" r="2.55"/><circle cx="669.4" cy="658.1" r="2.55"/><circle cx="681.3" cy="661.0" r="2.55"/><circle cx="689.4" cy="654.3" r="2.55"/><circle cx="702.3" cy="650.3" r="2.55"/><circle cx="723.0" cy="663.8" r="2.55"/><circle cx="659.4" cy="681.4" r="2.55"/><circle cx="643.7" cy="685.6" r="2.55"/><circle cx="650.9" cy="686.0" r="2.55"/><circle cx="695.5" cy="678.4" r="2.55"/><circle cx="708.4" cy="678.8" r="2.55"/><circle cx="723.2" cy="684.2" r="2.55"/><circle cx="719.0" cy="700.7" r="2.55"/><circle cx="640.8" cy="703.2" r="2.55"/><circle cx="603.8" cy="666.3" r="2.55"/><circle cx="608.8" cy="668.5" r="2.55"/><circle cx="613.4" cy="678.9" r="2.55"/><circle cx="619.5" cy="680.2" r="2.55"/><circle cx="625.5" cy="686.8" r="2.55"/><circle cx="632.3" cy="688.0" r="2.55"/><circle cx="600.5" cy="688.6" r="2.55"/></g>
<g fill="#000"><path d="M577.4 685.8L581.0 692.0H573.8Z"/><path d="M586.7 687.7L590.3 693.9H583.1Z"/><path d="M577.0 692.4L580.6 698.6H573.4Z"/><path d="M583.2 692.4L586.8 698.6H579.6Z"/><path d="M586.7 693.9L590.3 700.1H583.1Z"/><path d="M570.8 699.0L574.4 705.2H567.2Z"/><path d="M575.5 700.1L579.1 706.3H571.9Z"/><path d="M580.5 698.6L584.1 704.8H576.9Z"/><path d="M585.5 699.3L589.1 705.5H581.9Z"/><path d="M569.7 707.9L573.3 714.1H566.1Z"/><path d="M571.2 716.0L574.8 722.2H567.6Z"/><path d="M587.9 705.5L591.5 711.7H584.3Z"/><path d="M591.0 706.3L594.6 712.5H587.4Z"/><path d="M594.8 704.0L598.4 710.2H591.2Z"/><path d="M597.9 704.4L601.5 710.6H594.3Z"/><path d="M587.9 711.0L591.5 717.2H584.3Z"/><path d="M589.4 715.6L593.0 721.8H585.8Z"/><path d="M587.9 717.1L591.5 723.3H584.3Z"/><path d="M580.0 688.9L583.6 695.1H576.4Z"/><path d="M583.0 695.9L586.6 702.1H579.4Z"/><path d="M578.0 694.9L581.6 701.1H574.4Z"/><path d="M574.0 696.9L577.6 703.1H570.4Z"/><path d="M588.0 700.9L591.6 707.1H584.4Z"/><path d="M592.0 708.9L595.6 715.1H588.4Z"/><path d="M595.0 710.9L598.6 717.1H591.4Z"/><path d="M585.0 712.9L588.6 719.1H581.4Z"/><path d="M590.0 717.9L593.6 724.1H586.4Z"/><path d="M574.5 690.9L578.1 697.1H570.9Z"/></g>
<rect x="678.1" y="303.5" width="5" height="5" fill="#fff" stroke="#333" stroke-width="1.1"/><circle cx="680.6" cy="327.9" r="2.4" fill="#808080" stroke="#222" stroke-width="1"/><path d="M680.6 347.2L683.8 352.8H677.4Z" fill="#000"/><text x="690.5" y="311.5" textLength="78.8" lengthAdjust="spacingAndGlyphs">1932-1960</text><text x="690.5" y="333.3" textLength="78.8" lengthAdjust="spacingAndGlyphs">1961-1990</text><text x="690.5" y="354.8" textLength="78.8" lengthAdjust="spacingAndGlyphs">1991-2020</text>
</svg></body></html>
